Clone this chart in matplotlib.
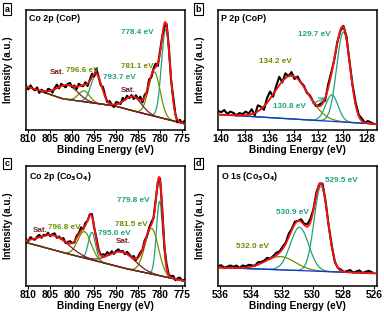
import numpy as np
import matplotlib
matplotlib.use('Agg')
import matplotlib.pyplot as plt

plt.rcParams['font.family'] = ['Liberation Sans', 'DejaVu Sans']
plt.rcParams['font.weight'] = 'bold'

TEAL = '#1fa37c'
OLIVE = '#6f8f00'
BROWN = '#7a1e1e'
BLUE = '#1b2fd0'

# ---- panel a : Co 2p (CoP) ----
a_bg_x = [810, 802, 790, 785, 774]
a_bg_y = [0.36, 0.26, 0.20, 0.15, 0.05]
# center, amplitude, fwhm, colour key
a_peaks = [(778.6, 0.75, 2.3, 't'), (781.2, 0.37, 3.1, 'o'), (786.0, 0.12, 4.5, 'b'),
           (794.4, 0.24, 2.9, 't'), (797.2, 0.09, 3.0, 'o'), (801.0, 0.12, 5.5, 'b')]
a_resid = [0.01, -0.02, 0.02, 0.00, -0.01, 0.02, -0.02, 0.01, 0.00, -0.01, 0.02, 0.01,
           -0.02, 0.01, 0.03, -0.01, 0.02, 0.00, -0.02, 0.01, 0.02, -0.01, 0.01, -0.02,
           0.02, 0.00, -0.01, 0.02, -0.02, 0.01, 0.03, -0.02, 0.04, 0.00, -0.02, 0.03,
           0.01, -0.01, 0.02, 0.00, -0.02, 0.02, 0.01, -0.01, 0.03, 0.00, 0.02, -0.01,
           0.01, -0.02, 0.02, 0.00, 0.03, -0.02, 0.02, -0.01, 0.03, -0.02, 0.01, 0.03,
           -0.02, 0.02, 0.00, -0.03, 0.02, 0.01, -0.02, 0.03, 0.00, -0.02, 0.02, 0.00, 0.02]
a_labels = [('778.4 eV', 785.0, 0.81, 't'), ('781.1 eV', 785.0, 0.53, 'o'), ('Sat.', 787.2, 0.33, 'b'),
            ('793.7 eV', 789.2, 0.44, 't'), ('796.6 eV', 797.6, 0.50, 'o'), ('Sat.', 803.2, 0.48, 'b')]

# ---- panel b : P 2p (CoP) ----
b_bg_x = [140.2, 127.2]
b_bg_y = [0.13, 0.05]
b_peaks = [(129.95, 0.75, 1.3, 't'), (130.9, 0.22, 1.2, 't'), (134.2, 0.36, 3.2, 'o')]
b_resid = [0.03, 0.02, 0.04, 0.01, 0.03, 0.02, 0.00, 0.02, 0.01, 0.03, 0.01, 0.04,
           -0.02, 0.05, 0.02, -0.03, 0.04, 0.06, -0.02, 0.03, 0.07, -0.01, 0.04, 0.00,
           0.03, -0.02, 0.02, 0.00, 0.01, -0.01, 0.01, 0.00, -0.01, 0.01, 0.02, -0.02,
           0.03, 0.02, 0.00, 0.01, -0.01, 0.01, 0.02, 0.00, 0.01, 0.02, 0.01, 0.02, 0.00, 0.02, 0.01, 0.00]
b_labels = [('129.7 eV', 132.3, 0.80, 't'), ('134.2 eV', 135.5, 0.57, 'o'), ('130.8 eV', 134.4, 0.20, 't')]

# ---- panel c : Co 2p (Co3O4) ----
c_bg_x = [810, 800, 787, 774]
c_bg_y = [0.36, 0.26, 0.14, 0.04]
c_peaks = [(780.0, 0.62, 1.7, 't'), (781.8, 0.38, 3.6, 'o'), (788.5, 0.13, 7.0, 'b'),
           (795.4, 0.23, 1.9, 't'), (797.1, 0.22, 3.6, 'o'), (804.0, 0.12, 8.0, 'b')]
c_resid = [0.01, -0.01, 0.02, 0.00, -0.01, 0.01, 0.02, -0.01, 0.01, 0.00, 0.02, -0.01,
           0.01, 0.02, -0.01, 0.01, 0.00, 0.02, -0.01, 0.01, 0.02, 0.00, -0.01, 0.02,
           0.01, 0.03, -0.01, 0.02, 0.00, 0.01, 0.02, -0.01, 0.02, 0.01, 0.00, 0.02,
           0.01, 0.03, 0.00, 0.02, -0.01, 0.01, 0.02, 0.00, 0.01, -0.01, 0.02, 0.01,
           0.00, 0.02, -0.01, 0.01, 0.02, 0.00, 0.02, -0.01, 0.01, 0.02, 0.00, 0.01,
           -0.01, 0.02, 0.01, -0.01, 0.02, 0.00, 0.01, 0.02, -0.01, 0.01, 0.02, 0.00, 0.01]
c_labels = [('779.8 eV', 786.0, 0.71, 't'), ('781.5 eV', 786.4, 0.51, 'o'), ('Sat.', 788.3, 0.37, 'b'),
            ('795.0 eV', 790.4, 0.44, 't'), ('796.8 eV', 801.7, 0.49, 'o'), ('Sat.', 807.2, 0.46, 'b')]

# ---- panel d : O 1s (Co3O4) ----
d_bg_x = [536.15, 525.8]
d_bg_y = [0.155, 0.105]
d_peaks = [(529.45, 0.71, 1.05, 't'), (530.85, 0.36, 1.4, 't'), (532.1, 0.11, 2.3, 'o')]
d_resid = [0.01, 0.02, 0.00, 0.01, 0.02, 0.01, 0.02, 0.00, 0.02, 0.01, 0.02, 0.01,
           0.00, 0.02, 0.01, 0.01, 0.02, 0.00, 0.01, 0.02, 0.01, 0.02, 0.01, 0.03,
           0.01, 0.02, 0.00, 0.02, 0.01, 0.02, 0.03, 0.01, 0.02, 0.00, 0.02, 0.01,
           0.00, 0.01, -0.01, 0.00, 0.01, 0.00, 0.01, 0.02, 0.00, 0.01, 0.02, 0.00, 0.01, 0.02, 0.01]
d_labels = [('529.5 eV', 528.1, 0.875, 't'), ('530.9 eV', 531.3, 0.61, 't'), ('532.0 eV', 533.9, 0.33, 'o')]

cols = {'t': TEAL, 'o': OLIVE, 'b': BROWN}


def gauss(x, c, a, w):
    s = w / 2.3548
    return a * np.exp(-(x - c) ** 2 / (2 * s * s))


def panel(ax, xlim, ticks, bg_x, bg_y, peaks, resid, raw_step, labels, title, bg_col):
    lo, hi = min(xlim), max(xlim)
    x = np.linspace(lo, hi, 800)
    if bg_x[0] > bg_x[-1]:
        bg = np.interp(x, bg_x[::-1], bg_y[::-1])
    else:
        bg = np.interp(x, bg_x, bg_y)
    env = bg.copy()
    for c, a, w, k in peaks:
        g = gauss(x, c, a, w)
        env += g
        ax.plot(x, bg + g, color=cols[k], lw=0.9, zorder=2)
    ax.plot(x, bg, color=bg_col, lw=0.9, zorder=2)
    xr = hi - raw_step * np.arange(len(resid))
    env_r = np.interp(xr, x, env)
    ax.plot(xr, env_r + np.array(resid), color='black', lw=1.5, zorder=3)
    ax.plot(x, env, color='#ff1010', lw=1.3, zorder=4)
    for t, lx, ly, k in labels:
        ax.text(lx, ly, t, color=cols[k], fontsize=5.9, ha='center', va='center', fontweight='bold')
    ax.text(0.02, 0.965, title, transform=ax.transAxes, fontsize=6.4, ha='left', va='top', fontweight='bold')
    ax.set_xlim(xlim)
    ax.set_ylim(0, 1)
    ax.set_xticks(ticks)
    ax.set_yticks([])
    ax.tick_params(axis='x', direction='out', length=2, width=0.8, labelsize=7.3, pad=1)
    for lab in ax.get_xticklabels():
        lab.set_fontweight('bold')
    for sp in ax.spines.values():
        sp.set_linewidth(1.1)
    ax.set_xlabel('Binding Energy (eV)', fontsize=7.3, fontweight='bold', labelpad=0.5)
    ax.set_ylabel('Intensity (a.u.)', fontsize=7.0, fontweight='bold')
    ax.yaxis.set_label_coords(-0.085, 0.5)


fig = plt.figure(figsize=(3.84, 3.12), dpi=100)
axa = fig.add_axes([0.068, 0.583, 0.414, 0.385])
axb = fig.add_axes([0.568, 0.583, 0.414, 0.385])
axc = fig.add_axes([0.068, 0.083, 0.414, 0.385])
axd = fig.add_axes([0.568, 0.083, 0.414, 0.385])

panel(axa, (810.4, 774.2), list(range(810, 774, -5)), a_bg_x, a_bg_y, a_peaks, a_resid, 0.5,
      a_labels, 'Co 2p (CoP)', BROWN)
panel(axb, (140.2, 127.2), list(range(140, 127, -2)), b_bg_x, b_bg_y, b_peaks, b_resid, 0.25,
      b_labels, 'P 2p (CoP)', BLUE)
panel(axc, (810.4, 774.2), list(range(810, 774, -5)), c_bg_x, c_bg_y, c_peaks, c_resid, 0.5,
      c_labels, 'Co 2p (Co$_3$O$_4$)', BROWN)
panel(axd, (536.15, 525.8), list(range(536, 525, -2)), d_bg_x, d_bg_y, d_peaks, d_resid, 0.2,
      d_labels, 'O 1s (Co$_3$O$_4$)', BLUE)

axb.annotate('', xy=(131.2, 0.28), xytext=(132.7, 0.21),
             arrowprops=dict(arrowstyle='->', color=TEAL, lw=0.8))

for lbl, px, py in [('a', 0.012, 0.985), ('b', 0.51, 0.985), ('c', 0.012, 0.49), ('d', 0.51, 0.49)]:
    fig.text(px, py, lbl, fontsize=6.5, fontweight='bold', ha='left', va='top',
             bbox=dict(boxstyle='square,pad=0.15', fc='white', ec='black', lw=0.8))

fig.savefig('out.png', dpi=100)
